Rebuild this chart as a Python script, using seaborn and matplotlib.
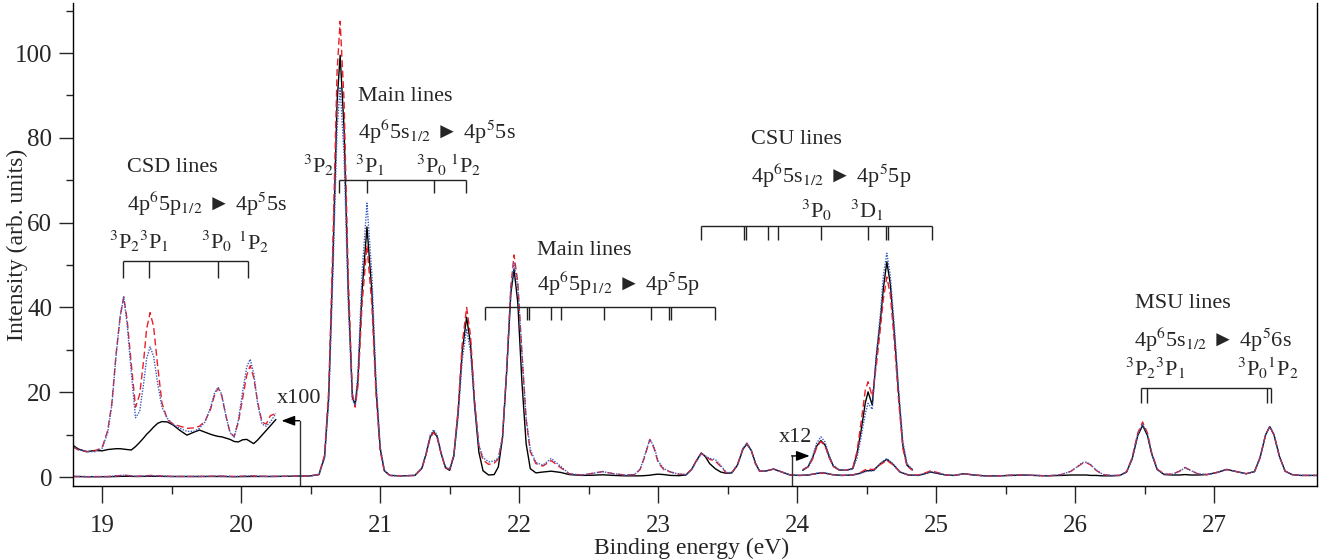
import matplotlib
matplotlib.use("Agg")
import matplotlib.pyplot as plt
import pandas as pd
import seaborn as sns


# Main spectrum (binding energy in eV, intensity in arb. units)
ENERGY = [
    18.79, 18.90, 19.05, 19.16, 19.25, 19.35, 19.50, 19.70, 19.84, 19.95, 20.07, 20.20, 20.35, 20.50,
    20.56, 20.60, 20.63, 20.66, 20.69, 20.712, 20.74, 20.77, 20.80, 20.82, 20.84, 20.87, 20.905, 20.94,
    20.97, 21.00, 21.03, 21.07,
    21.15, 21.25, 21.30, 21.33, 21.36, 21.385, 21.41, 21.44, 21.47, 21.50, 21.53, 21.56, 21.59, 21.622,
    21.65, 21.68, 21.71, 21.74, 21.78, 21.82, 21.85, 21.88, 21.91, 21.94, 21.963, 21.99, 22.02, 22.05,
    22.08, 22.12, 22.17, 22.23, 22.30, 22.36,
    22.45, 22.53, 22.60, 22.68, 22.76, 22.83, 22.87, 22.90, 22.94, 22.97, 23.00, 23.04, 23.09, 23.15,
    23.20, 23.24, 23.27, 23.31, 23.34, 23.37, 23.41, 23.45, 23.49, 23.53, 23.57, 23.61, 23.638, 23.67,
    23.70, 23.73, 23.77, 23.83, 23.89, 23.95,
    24.02, 24.08, 24.15, 24.19, 24.25, 24.32, 24.40, 24.45, 24.50, 24.55, 24.60, 24.645, 24.69, 24.74,
    24.80, 24.87, 24.93, 24.96,
    25.02, 25.07, 25.13, 25.20, 25.27, 25.35, 25.45, 25.55, 25.62, 25.70, 25.80, 25.90, 25.97, 26.02,
    26.05, 26.08, 26.11, 26.15, 26.20, 26.26, 26.32, 26.37, 26.41, 26.45, 26.485, 26.52, 26.55, 26.59,
    26.64, 26.70, 26.75, 26.79, 26.83, 26.88, 26.95, 27.02, 27.09, 27.16, 27.23, 27.29, 27.33, 27.37,
    27.40, 27.43, 27.47, 27.51, 27.56, 27.62, 27.68, 27.74,
]

SOLID = [
    0.15, 0.1, 0.1, 0.2, 0.15, 0.2, 0.15, 0.15, 0.15, 0.1, 0.15, 0.15, 0.2, 0.3,
    0.6, 4.8, 19.2, 51.3, 88.5, 99.5, 82.4, 44.3, 18.9, 17.0, 22.8, 44.0, 59.0, 43.9,
    21.1, 6.7, 1.5, 0.4,
    0.3, 0.4, 2.1, 5.4, 9.5, 10.7, 9.5, 5.4, 2.2, 1.6, 5.0, 14.9, 29.6, 37.7,
    31.4, 16.7, 5.9, 1.5, 0.5, 0.6, 2.4, 9.2, 24.8, 43.3, 49.0, 41.2, 22.3, 7.9,
    2.0, 1.0, 1.2, 1.4, 1.1, 0.6,
    0.4, 0.45, 0.55, 0.4, 0.3, 0.3, 0.3, 0.35, 0.45, 0.6, 0.7, 0.6, 0.4, 0.35,
    0.5, 1.8, 3.6, 5.7, 4.8, 3.2, 2.0, 1.2, 0.9, 1.0, 2.8, 6.6, 7.8, 6.3,
    3.3, 1.4, 1.4, 1.9, 1.2, 0.5,
    0.4, 0.5, 0.9, 1.0, 0.6, 0.4, 0.5, 0.9, 1.5, 1.6, 3.2, 4.2, 3.0, 1.2,
    0.5, 0.4, 0.9, 1.2,
    0.8, 0.5, 0.4, 0.8, 0.5, 0.3, 0.3, 0.4, 0.5, 0.4, 0.3, 0.4, 0.5, 0.5,
    0.5, 0.5, 0.4, 0.4, 0.3, 0.3, 0.4, 1.2, 4.3, 9.8, 12.2, 9.8, 5.5, 1.8,
    0.6, 0.5, 0.5, 0.6, 0.5, 0.5, 0.6, 1.1, 1.8, 1.3, 0.8, 1.3, 4.6, 10.0,
    11.9, 10.0, 4.8, 1.4, 0.6, 0.4, 0.4, 0.4,
]

DASHED = [
    0.15, 0.1, 0.15, 0.45, 0.2, 0.4, 0.15, 0.15, 0.25, 0.15, 0.3, 0.15, 0.2, 0.3,
    0.66, 5.2, 20.7, 55.4, 95.7, 107.5, 88.9, 47.8, 19.8, 16.5, 21.4, 40.9, 54.7, 40.7,
    19.6, 6.2, 1.4, 0.4,
    0.3, 0.4, 2.0, 5.3, 9.3, 10.5, 9.3, 5.3, 2.2, 1.9, 5.3, 15.8, 31.3, 40.0,
    33.3, 18.0, 7.5, 4.0, 3.0, 3.3, 4.3, 9.5, 25.5, 45.0, 52.4, 46.0, 29.0, 13.5,
    6.0, 3.2, 2.6, 3.9, 2.2, 0.8,
    0.5, 0.9, 1.3, 0.8, 0.5, 0.6, 1.8, 4.5, 8.9, 6.8, 3.4, 1.8, 1.2, 0.7,
    0.6, 1.8, 3.6, 5.6, 5.0, 4.2, 3.8, 2.5, 1.0, 1.1, 2.9, 6.8, 8.0, 6.3,
    3.1, 1.4, 1.4, 1.9, 1.2, 0.5,
    0.4, 0.5, 0.9, 1.0, 0.6, 0.4, 0.5, 1.0, 1.9, 1.8, 3.0, 3.9, 2.9, 1.2,
    0.5, 0.5, 1.1, 1.5,
    1.0, 0.5, 0.4, 0.8, 0.5, 0.3, 0.3, 0.5, 0.5, 0.4, 0.3, 0.6, 1.4, 2.5,
    3.2, 3.4, 2.9, 1.6, 0.6, 0.4, 0.4, 1.3, 4.6, 10.4, 13.0, 10.4, 5.8, 1.9,
    0.7, 0.7, 1.4, 2.3, 1.6, 0.8, 0.6, 1.1, 1.8, 1.3, 0.8, 1.3, 4.6, 10.0,
    12.0, 10.0, 4.8, 1.4, 0.6, 0.4, 0.4, 0.4,
]

DOTTED = [
    0.15, 0.1, 0.15, 0.45, 0.15, 0.35, 0.15, 0.15, 0.25, 0.15, 0.3, 0.15, 0.2, 0.3,
    0.6, 4.5, 17.8, 47.5, 82.0, 92.0, 76.2, 41.1, 18.2, 17.0, 24.6, 48.2, 64.6, 48.0,
    23.1, 7.3, 1.6, 0.4,
    0.3, 0.4, 2.2, 5.6, 9.9, 11.2, 9.9, 5.6, 2.4, 1.9, 4.9, 13.9, 27.5, 35.0,
    29.5, 16.5, 7.5, 4.6, 3.6, 3.8, 4.5, 9.3, 25.0, 44.0, 50.5, 45.0, 29.5, 14.0,
    6.5, 3.5, 2.8, 4.4, 2.5, 0.8,
    0.5, 0.9, 1.3, 0.8, 0.5, 0.6, 1.9, 4.8, 8.9, 7.2, 3.8, 2.0, 1.2, 0.7,
    0.6, 1.7, 3.4, 5.5, 5.0, 4.4, 4.2, 2.8, 1.1, 1.1, 2.9, 6.8, 8.0, 6.3,
    3.1, 1.4, 1.4, 1.9, 1.2, 0.5,
    0.4, 0.5, 1.0, 1.1, 0.6, 0.4, 0.5, 0.8, 1.4, 1.5, 3.3, 4.4, 3.1, 1.2,
    0.5, 0.4, 0.9, 1.3,
    0.9, 0.5, 0.4, 0.8, 0.5, 0.3, 0.3, 0.5, 0.5, 0.4, 0.3, 0.6, 1.4, 2.6,
    3.4, 3.5, 3.0, 1.7, 0.6, 0.4, 0.4, 1.2, 4.4, 10.0, 12.5, 10.0, 5.6, 1.8,
    0.7, 0.7, 1.4, 2.2, 1.6, 0.8, 0.6, 1.1, 1.8, 1.3, 0.8, 1.3, 4.6, 10.0,
    11.9, 10.0, 4.8, 1.4, 0.6, 0.4, 0.4, 0.4,
]

# x100 magnified region (CSD lines)
ENERGY_X100 = [
    18.79, 18.83, 18.89, 18.95, 19.00, 19.04, 19.07, 19.10, 19.13, 19.155,
    19.18, 19.21, 19.24, 19.27, 19.30, 19.32, 19.345, 19.37, 19.40, 19.43,
    19.47, 19.51, 19.56, 19.61, 19.66, 19.70, 19.74, 19.78, 19.81, 19.835,
    19.86, 19.89, 19.92, 19.95, 19.98, 20.01, 20.04, 20.065, 20.09, 20.12,
    20.15, 20.18, 20.21, 20.25,
]
SOLID_X100 = [
    7.5, 6.6, 6.0, 6.3, 6.2, 6.5, 6.6, 6.7, 6.7, 6.6,
    6.5, 6.4, 7.2, 8.2, 9.3, 10.1, 10.9, 11.8, 12.7, 13.1,
    13.0, 12.3, 11.0, 9.9, 10.6, 11.1, 10.6, 10.1, 9.8, 9.6,
    9.5, 9.2, 8.9, 8.4, 8.3, 8.8, 8.9, 8.4, 7.9, 8.8,
    9.9, 11.0, 12.1, 13.6,
]
DASHED_X100 = [
    7.1, 6.4, 6.0, 6.2, 7.0, 11.0, 17.5, 29.0, 38.0, 42.5,
    37.0, 26.5, 16.5, 19.5, 28.0, 35.0, 38.8, 35.5, 26.0, 17.5,
    13.5, 12.5, 12.0, 11.5, 11.6, 12.0, 13.2, 16.0, 19.5, 21.0,
    19.2, 14.5, 10.5, 9.6, 13.0, 18.5, 24.0, 26.3, 23.5, 17.5,
    13.0, 12.5, 14.5, 15.0,
]
DOTTED_X100 = [
    7.3, 6.5, 6.0, 6.0, 6.8, 10.5, 17.0, 28.5, 38.0, 42.5,
    36.0, 24.5, 14.0, 15.5, 22.5, 28.0, 30.7, 28.5, 22.0, 16.5,
    13.8, 12.5, 11.5, 10.8, 10.8, 11.5, 13.0, 16.5, 20.0, 21.2,
    19.5, 14.5, 10.5, 9.4, 13.5, 20.0, 26.0, 27.8, 24.5, 17.0,
    12.5, 12.0, 13.0, 15.0,
]

# x12 magnified region (CSU lines)
ENERGY_X12 = [
    24.04, 24.08, 24.11, 24.14, 24.17, 24.20, 24.23, 24.26, 24.30, 24.35,
    24.40, 24.43, 24.46, 24.49, 24.51, 24.54, 24.57, 24.60, 24.62, 24.645,
    24.67, 24.70, 24.73, 24.76, 24.79, 24.83,
]
SOLID_X12 = [
    1.6, 2.5, 4.5, 7.3, 8.6, 7.6, 4.8, 2.6, 1.7, 1.6,
    2.0, 5.5, 11.0, 17.5, 20.1, 17.0, 28.5, 37.5, 44.5, 50.8,
    45.5, 33.5, 19.5, 7.5, 2.8, 1.7,
]
DASHED_X12 = [
    1.8, 2.4, 4.2, 7.0, 8.4, 7.4, 4.6, 2.5, 1.7, 1.6,
    2.2, 6.0, 13.0, 20.5, 22.5, 19.0, 26.5, 35.5, 42.0, 47.2,
    43.0, 31.5, 18.0, 6.8, 2.6, 1.6,
]
DOTTED_X12 = [
    1.6, 2.6, 4.8, 8.0, 9.5, 8.3, 5.2, 2.8, 1.8, 1.6,
    1.9, 4.5, 9.5, 15.0, 17.4, 16.0, 29.0, 39.0, 47.5, 52.8,
    47.5, 35.0, 20.5, 8.5, 3.2, 1.8,
]

# Line positions marked by the brackets (eV)
CSD_LINES = [19.153, 19.34, 19.83, 20.05]
MAIN_5S_LINES = [20.707, 20.904, 21.39, 21.617]
MAIN_5P_LINES = [21.753, 22.055, 22.072, 22.23, 22.30, 22.61, 22.95, 23.08, 23.09, 23.41]
CSU_LINES = [23.31, 23.62, 23.63, 23.79, 23.86, 24.17, 24.51, 24.64, 24.65, 24.97]
MSU_LINES = [26.475, 26.52, 27.38, 27.41]

XLIM = (18.79, 27.74)
YLIM = (-2.1, 111.8)

STYLES = {
    "solid": dict(color="black", linewidth=1.0, linestyle="-"),
    "dashed": dict(color="#e8202a", linewidth=1.0, linestyle=(0, (5, 2.5))),
    "dotted": dict(color="#3a5cc0", linewidth=1.0, linestyle=(0, (1, 1))),
}

ANNOT_SIZE = 16
ARROW = "\u25ba"


def plot_series(ax, energy, curves):
    for name, values in curves:
        sns.lineplot(x=energy, y=values, ax=ax, estimator=None, sort=False,
                     **STYLES[name])


def draw_bracket(ax, lines, bar_y, tick_y):
    ax.hlines(bar_y, min(lines), max(lines), color="#222222", linewidth=1.0)
    ax.vlines(lines, tick_y, bar_y, color="#222222", linewidth=1.0)


def main():
    sns.set_style("ticks")
    plt.rcParams["font.family"] = ["Liberation Serif", "DejaVu Sans"]
    plt.rcParams["mathtext.fontset"] = "stix"

    fig = plt.figure(figsize=(13.34, 5.6), dpi=100)
    ax = fig.add_axes([0.0547, 0.1321, 0.9326, 0.8625])

    plot_series(ax, ENERGY, [("solid", SOLID), ("dashed", DASHED), ("dotted", DOTTED)])
    plot_series(ax, ENERGY_X100, [("solid", SOLID_X100), ("dashed", DASHED_X100),
                                  ("dotted", DOTTED_X100)])
    plot_series(ax, ENERGY_X12, [("solid", SOLID_X12), ("dashed", DASHED_X12),
                                 ("dotted", DOTTED_X12)])

    # brackets with line positions
    draw_bracket(ax, CSD_LINES, 51.0, 47.0)
    draw_bracket(ax, MAIN_5S_LINES, 70.0, 67.0)
    draw_bracket(ax, MAIN_5P_LINES, 40.0, 37.0)
    draw_bracket(ax, CSU_LINES, 59.2, 56.0)
    draw_bracket(ax, MSU_LINES, 20.9, 17.5)

    kw = dict(fontsize=ANNOT_SIZE, va="center")

    # CSD
    ax.text(19.18, 72.9, "CSD lines", ha="left", **kw)
    ax.text(19.18, 64.5, f"4p$^6$5p$_{{1/2}}$ {ARROW} 4p$^5$5s", ha="left", **kw)
    for x, s in zip([19.16, 19.37, 19.82, 20.09],
                    ["$^3$P$_2$", "$^3$P$_1$", "$^3$P$_0$", "$^1$P$_2$"]):
        ax.text(x, 55.5, s, ha="center", **kw)

    # Main lines 5s
    ax.text(20.84, 89.7, "Main lines", ha="left", **kw)
    ax.text(20.84, 81.5, f"4p$^6$5s$_{{1/2}}$ {ARROW} 4p$^5$5s", ha="left", **kw)
    for x, s in zip([20.56, 20.93, 21.37, 21.615],
                    ["$^3$P$_2$", "$^3$P$_1$", "$^3$P$_0$", "$^1$P$_2$"]):
        ax.text(x, 73.6, s, ha="center", **kw)

    # Main lines 5p
    ax.text(22.13, 53.5, "Main lines", ha="left", **kw)
    ax.text(22.13, 45.5, f"4p$^6$5p$_{{1/2}}$ {ARROW} 4p$^5$5p", ha="left", **kw)

    # CSU lines
    ax.text(23.67, 79.5, "CSU lines", ha="left", **kw)
    ax.text(23.67, 71.0, f"4p$^6$5s$_{{1/2}}$ {ARROW} 4p$^5$5p", ha="left", **kw)
    ax.text(24.14, 63.0, "$^3$P$_0$", ha="center", **kw)
    ax.text(24.50, 63.0, "$^3$D$_1$", ha="center", **kw)

    # MSU lines
    ax.text(26.43, 41.0, "MSU lines", ha="left", **kw)
    ax.text(26.42, 32.3, f"4p$^6$5s$_{{1/2}}$ {ARROW} 4p$^5$6s", ha="left", **kw)
    ax.text(26.58, 25.7, "$^3$P$_2$$^3$P$_1$", ha="center", **kw)
    ax.text(27.39, 25.7, "$^3$P$_0$$^1$P$_2$", ha="center", **kw)

    # magnification markers
    arrow_kw = dict(arrowstyle="-|>,head_length=0.8,head_width=0.3", color="black",
                    linewidth=1.0, shrinkA=0, shrinkB=0)
    ax.plot([20.42, 20.42], [YLIM[0], 13.3], color="#333333", linewidth=1.0)
    ax.annotate("", xy=(20.29, 13.3), xytext=(20.42, 13.3), arrowprops=arrow_kw)
    ax.text(20.42, 18.6, "x100", ha="center", **kw)

    ax.plot([23.96, 23.96], [YLIM[0], 5.0], color="#333333", linewidth=1.0)
    ax.annotate("", xy=(24.09, 5.0), xytext=(23.96, 5.0), arrowprops=arrow_kw)
    ax.text(23.99, 9.3, "x12", ha="center", **kw)

    ax.set_xticks(range(19, 28))
    ax.set_xticks([x + 0.5 for x in range(19, 27)], minor=True)
    ax.set_yticks(range(0, 101, 20))
    ax.set_yticks(range(10, 111, 20), minor=True)
    ax.set_xlim(*XLIM)
    ax.set_ylim(*YLIM)

    ax.tick_params(axis="x", which="major", direction="out", length=12, width=1,
                   labelsize=18, pad=9)
    ax.tick_params(axis="x", which="minor", direction="out", length=6, width=1)
    ax.tick_params(axis="y", which="major", direction="out", length=10, width=1,
                   labelsize=18, pad=5)
    ax.tick_params(axis="y", which="minor", direction="out", length=5, width=1)

    for side in ["left", "bottom", "right"]:
        ax.spines[side].set_linewidth(1.0)
        ax.spines[side].set_color("black")
    ax.spines["top"].set_visible(False)

    ax.set_xlabel("Binding energy (eV)", fontsize=17)
    ax.set_ylabel("Intensity (arb. units)", fontsize=17)
    ax.xaxis.set_label_coords(0.497, -0.108)
    ax.yaxis.set_label_coords(-0.036, 0.5)

    fig.savefig("out.png", dpi=100)
    plt.close(fig)


if __name__ == "__main__":
    main()
